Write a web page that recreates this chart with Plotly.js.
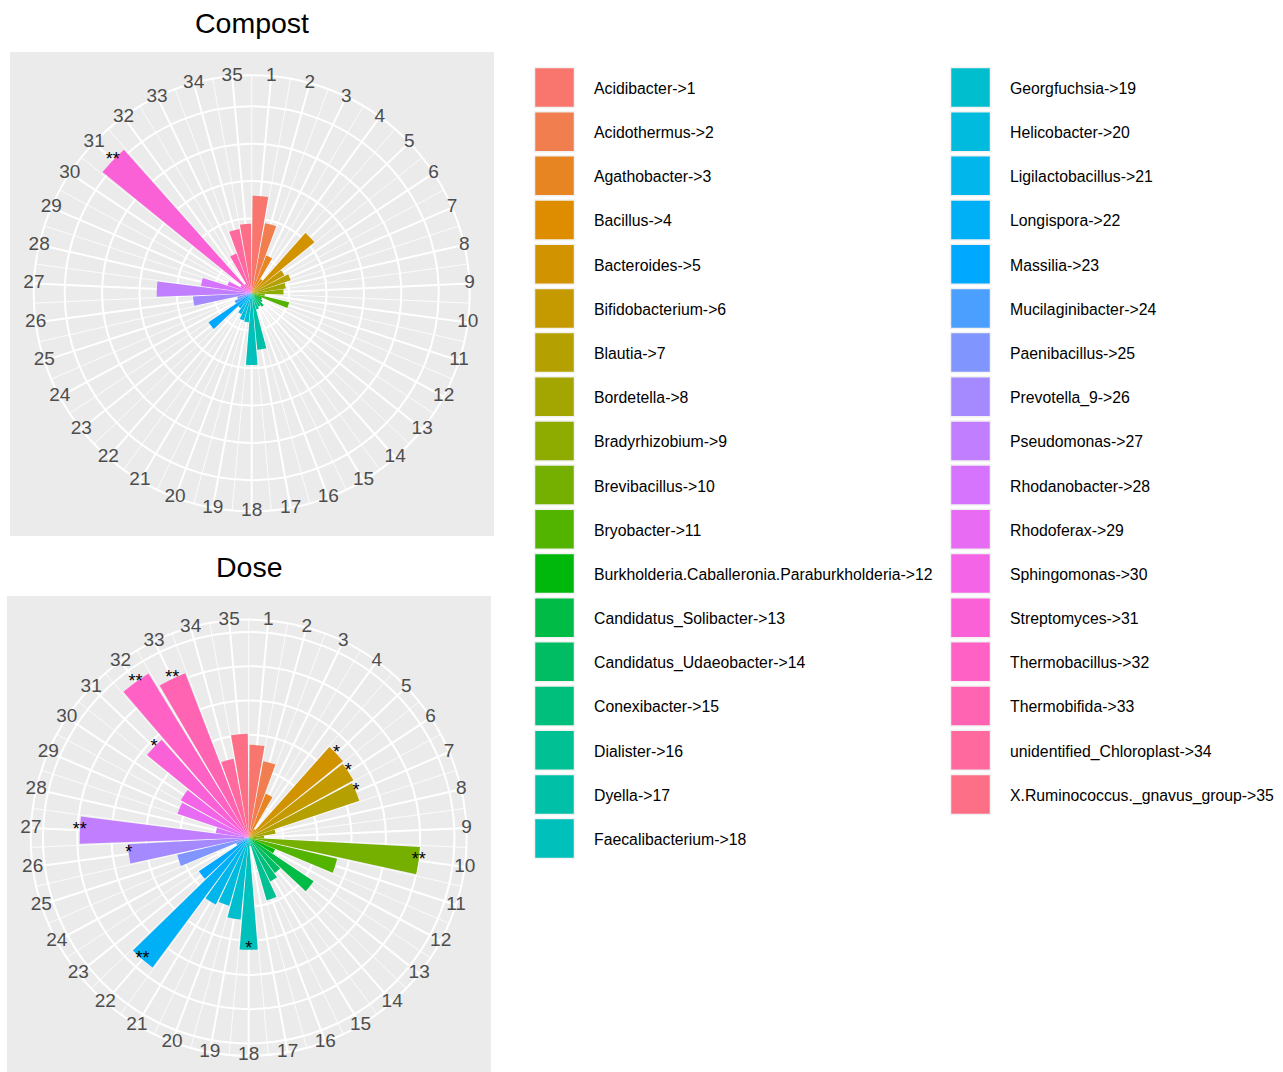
<!DOCTYPE html>
<html>
<head>
<meta charset="utf-8">
<script src="https://cdn.plot.ly/plotly-3.0.1.min.js"></script>
<style>
  html, body { margin: 0; padding: 0; background: #ffffff; }
  #chart { width: 1283px; height: 1072px; }
</style>
</head>
<body>
<div id="chart"></div>
<script>
// ---- data -------------------------------------------------------------
const genera = [
  "Acidibacter", "Acidothermus", "Agathobacter", "Bacillus", "Bacteroides",
  "Bifidobacterium", "Blautia", "Bordetella", "Bradyrhizobium", "Brevibacillus",
  "Bryobacter", "Burkholderia.Caballeronia.Paraburkholderia", "Candidatus_Solibacter",
  "Candidatus_Udaeobacter", "Conexibacter", "Dialister", "Dyella", "Faecalibacterium",
  "Georgfuchsia", "Helicobacter", "Ligilactobacillus", "Longispora", "Massilia",
  "Mucilaginibacter", "Paenibacillus", "Prevotella_9", "Pseudomonas", "Rhodanobacter",
  "Rhodoferax", "Sphingomonas", "Streptomyces", "Thermobacillus", "Thermobifida",
  "unidentified_Chloroplast", "X.Ruminococcus._gnavus_group"
];
const genusIds = ["1","2","3","4","5","6","7","8","9","10","11","12","13","14","15","16","17","18",
                  "19","20","21","22","23","24","25","26","27","28","29","30","31","32","33","34","35"];

// bar heights (radial units, one unit per grid ring)
const compostValues = [2.61, 1.91, 1.08, 0.45, 2.16, 1.00, 1.10, 0.92, 0.85, 0.35,
                       1.03, 0.30, 0.35, 0.45, 0.40, 0.45, 1.52, 1.92, 0.78, 0.75,
                       0.62, 0.50, 1.39, 0.50, 0.40, 1.57, 2.54, 1.37, 0.68, 0.35,
                       5.14, 0.30, 1.14, 1.75, 1.86];
const doseValues    = [2.71, 2.27, 1.37, 0.30, 3.54, 3.48, 3.40, 0.79, 0.45, 5.00,
                       2.65, 0.84, 2.28, 1.28, 1.42, 1.90, 0.25, 3.27, 2.40, 2.06,
                       2.17, 4.71, 1.75, 0.40, 2.14, 3.53, 4.93, 0.97, 2.19, 2.26,
                       3.82, 5.61, 5.14, 2.34, 3.03];

// significance marks
const compostStars = ["","","","","","","","","","","","","","","","","","",
                      "","","","","","","","","","","","","**","","","",""];
const doseStars    = ["","","","","*","*","*","","","**","","","","","","","","*",
                      "","","","**","","","","*","**","","","","*","**","**","",""];

// ---- helpers ----------------------------------------------------------
// HCL (polar Luv) -> sRGB hex, same colour model as R's hcl()
function hcl(h, c, l) {
  const WU = 0.1978398, WV = 0.4683363, WY = 100;
  const hr = h * Math.PI / 180;
  const U = c * Math.cos(hr), V = c * Math.sin(hr);
  const Y = l > 7.999592 ? WY * Math.pow((l + 16) / 116, 3) : WY * l / 903.3;
  const u = U / (13 * l) + WU, v = V / (13 * l) + WV;
  const X = 9.0 * Y * u / (4 * v);
  const Z = -X / 3 - 5 * Y + 3 * Y / v;
  const x = X / 100, y = Y / 100, z = Z / 100;
  const lin = [
    3.240479 * x - 1.537150 * y - 0.498535 * z,
   -0.969256 * x + 1.875992 * y + 0.041556 * z,
    0.055648 * x - 0.204043 * y + 1.057311 * z
  ];
  return "#" + lin.map(t => {
    let g = t > 0.00304 ? 1.055 * Math.pow(t, 1 / 2.4) - 0.055 : 12.92 * t;
    g = Math.min(1, Math.max(0, g));
    return Math.round(g * 255).toString(16).padStart(2, "0");
  }).join("");
}

const n = genera.length;
const step = 360 / n;
// evenly spaced hues starting at 15 degrees (default discrete fill scale)
const palette = genera.map((_, i) => hcl(15 + i * step, 100, 65));
const centers = genera.map((_, i) => (i + 0.5) * step);
const boundaries = genera.map((_, i) => i * step);
const legendLabels = genera.map((g, i) => g + "->" + genusIds[i]);

// ---- geometry ---------------------------------------------------------
const W = 1283, H = 1072;
const FONT = "Liberation Sans, Arial, Helvetica, sans-serif";
const ringPx = { compost: 37.4, dose: 34.3 };
const outerPx = 218;
const panels = {
  compost: { cx: 251.7, cy: 293.3, box: [10, 52, 494, 536], title: "Compost", tx: 252, ty: 23,
             base: "polar", bars: "polar2", values: compostValues, stars: compostStars, rings: [1, 2, 3, 4, 5] },
  dose:    { cx: 248.7, cy: 837.7, box: [7, 596, 491, 1080], title: "Dose", tx: 249, ty: 567,
             base: "polar3", bars: "polar4", values: doseValues, stars: doseStars, rings: [1, 2, 3, 4, 5, 6] }
};

const traces = [];
const layout = {
  width: W, height: H,
  margin: { l: 0, r: 0, t: 0, b: 0 },
  paper_bgcolor: "#ffffff",
  plot_bgcolor: "rgba(0,0,0,0)",
  showlegend: false,
  font: { family: FONT, color: "#000000" },
  shapes: [],
  annotations: []
};

Object.keys(panels).forEach(key => {
  const p = panels[key];
  const rMax = outerPx / ringPx[key];
  const dom = {
    x: [(p.cx - outerPx) / W, (p.cx + outerPx) / W],
    y: [1 - (p.cy + outerPx) / H, 1 - (p.cy - outerPx) / H]
  };

  // grey panel
  layout.shapes.push({
    type: "rect", xref: "paper", yref: "paper", layer: "below",
    x0: p.box[0] / W, x1: p.box[2] / W, y0: 1 - p.box[3] / H, y1: 1 - p.box[1] / H,
    fillcolor: "#EBEBEB", line: { width: 0 }
  });

  // panel title
  layout.annotations.push({
    xref: "paper", yref: "paper", x: p.tx / W, y: 1 - p.ty / H,
    xanchor: "center", yanchor: "middle", showarrow: false,
    text: p.title, font: { family: FONT, size: 28.5, color: "#000000" }
  });

  // lower polar: rings + thin spokes between categories
  layout[p.base] = {
    domain: dom,
    bgcolor: "#EBEBEB",
    angularaxis: {
      thetaunit: "degrees", rotation: 90, direction: "clockwise",
      tickmode: "array", tickvals: boundaries, showticklabels: false, ticks: "",
      showgrid: true, gridcolor: "#ffffff", gridwidth: 0.8,
      showline: true, linecolor: "#ffffff", linewidth: 2
    },
    radialaxis: {
      range: [0, rMax], tickmode: "array", tickvals: p.rings,
      showticklabels: false, ticks: "", showline: false,
      showgrid: true, gridcolor: "#ffffff", gridwidth: 2
    }
  };
  traces.push({
    type: "scatterpolar", subplot: p.base, r: [0], theta: [0], mode: "markers",
    marker: { size: 1, opacity: 0 }, hoverinfo: "skip", showlegend: false
  });

  // upper polar: thick spokes at category centres, bars and labels
  layout[p.bars] = {
    domain: dom,
    bgcolor: "rgba(0,0,0,0)",
    angularaxis: {
      thetaunit: "degrees", rotation: 90, direction: "clockwise",
      tickmode: "array", tickvals: centers, showticklabels: false, ticks: "",
      showgrid: true, gridcolor: "#ffffff", gridwidth: 2,
      showline: false
    },
    radialaxis: {
      range: [0, rMax], showticklabels: false, ticks: "", showline: false, showgrid: false
    }
  };
  traces.push({
    type: "barpolar", subplot: p.bars,
    r: p.values, theta: centers, width: genera.map(() => step * 0.9),
    marker: { color: palette, line: { width: 0 } },
    hoverinfo: "skip", showlegend: false
  });
  // category labels around the rim
  traces.push({
    type: "scatterpolar", subplot: p.bars, mode: "text", cliponaxis: false,
    r: genera.map(() => rMax), theta: centers, text: genusIds,
    textposition: "middle center",
    textfont: { family: FONT, size: 19, color: "#4D4D4D" },
    hoverinfo: "skip", showlegend: false
  });
  // significance marks at bar ends
  const idx = p.stars.map((s, i) => s ? i : -1).filter(i => i >= 0);
  traces.push({
    type: "scatterpolar", subplot: p.bars, mode: "text", cliponaxis: false,
    r: idx.map(i => p.values[i]), theta: idx.map(i => centers[i]), text: idx.map(i => p.stars[i]),
    textposition: "middle center",
    textfont: { family: FONT, size: 18, color: "#000000" },
    hoverinfo: "skip", showlegend: false
  });
});

// ---- legend drawn as a pixel-scaled cartesian panel --------------------
const perColumn = 18;
const keyX = [554.5, 970.5], labelX = [594, 1010];
const rowY0 = 87.5, rowStep = 44.18, labelDy = 2.5;
const col = genera.map((_, i) => i < perColumn ? 0 : 1);
const row = genera.map((_, i) => i < perColumn ? i : i - perColumn);

layout.xaxis = { domain: [0, 1], range: [0, W], visible: false, fixedrange: true };
layout.yaxis = { domain: [0, 1], range: [H, 0], visible: false, fixedrange: true };

traces.push({
  type: "scatter", mode: "markers", xaxis: "x", yaxis: "y",
  x: genera.map((_, i) => keyX[col[i]]),
  y: genera.map((_, i) => rowY0 + row[i] * rowStep),
  marker: { symbol: "square", size: 40, color: palette, line: { color: "#F2F2F2", width: 1.5 } },
  hoverinfo: "skip", showlegend: false, cliponaxis: false
});
traces.push({
  type: "scatter", mode: "text", xaxis: "x", yaxis: "y",
  x: genera.map((_, i) => labelX[col[i]]),
  y: genera.map((_, i) => rowY0 + row[i] * rowStep + labelDy),
  text: legendLabels, textposition: "middle right",
  textfont: { family: FONT, size: 15.8, color: "#000000" },
  hoverinfo: "skip", showlegend: false, cliponaxis: false
});

Plotly.newPlot("chart", traces, layout, { staticPlot: true, displayModeBar: false });
</script>
</body>
</html>
